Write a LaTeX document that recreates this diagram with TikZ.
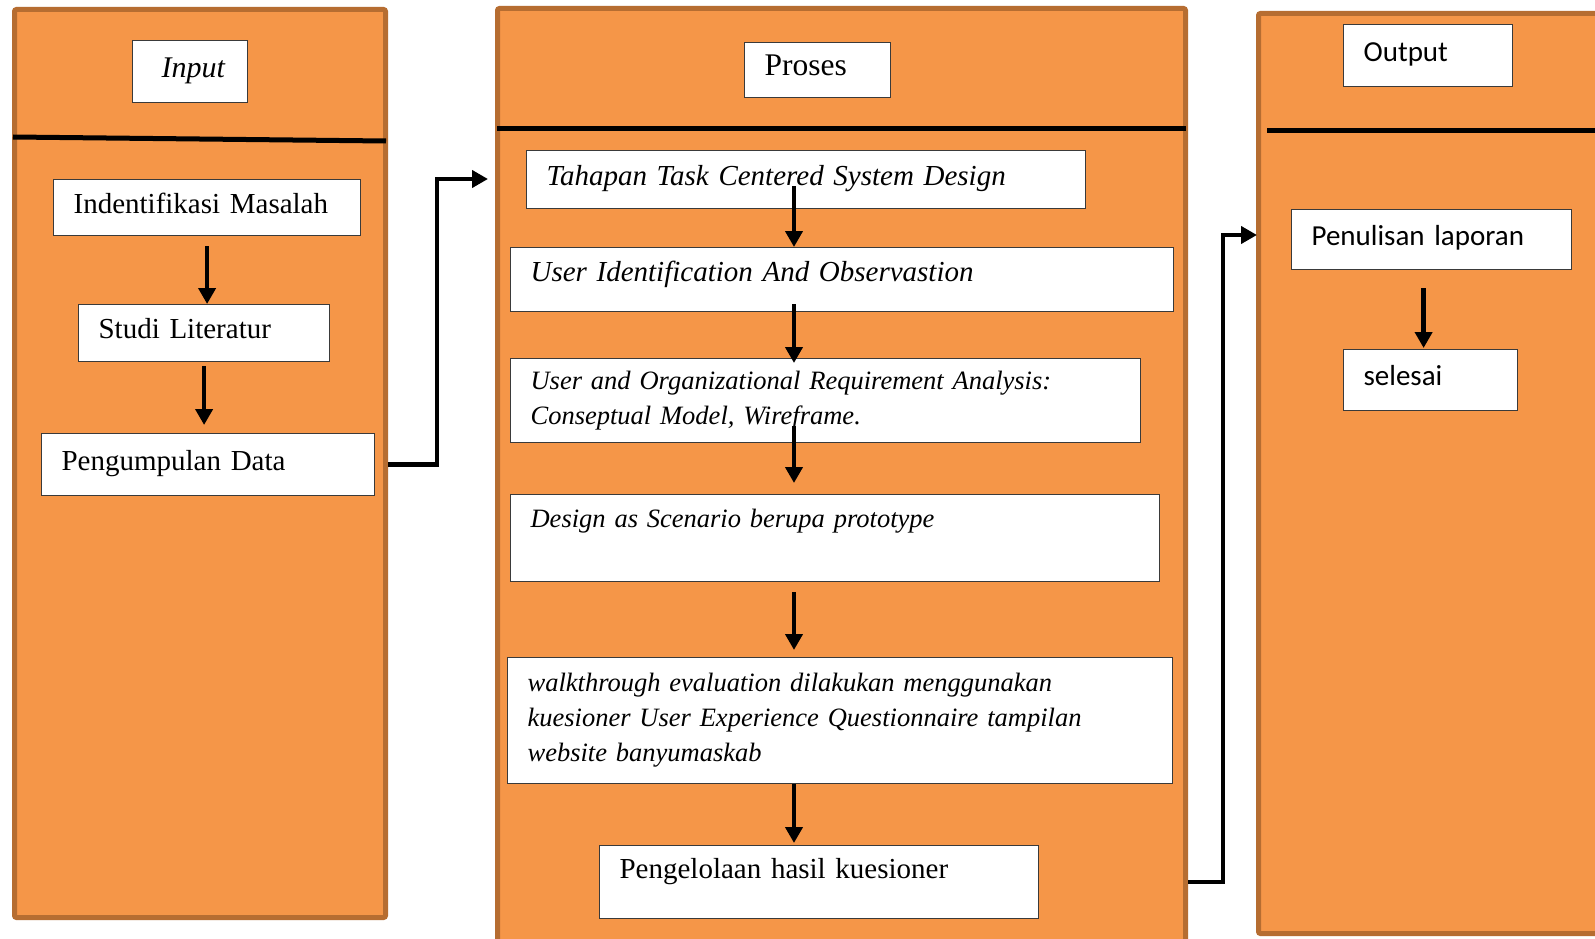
\documentclass[tikz,border=0pt]{standalone}
\usepackage{fontspec}
\setmainfont{Liberation Serif}
\newfontfamily\calibri{Carlito}
\usepackage{xcolor}
\usepackage{tikz}
\usetikzlibrary{calc, arrows.meta}

\definecolor{panelfill}{HTML}{F59648}
\definecolor{panelborder}{HTML}{B66D31}
\definecolor{boxline}{HTML}{3A3A3A}

\tikzset{
	panel/.style={draw=panelborder, fill=panelfill, line width=5pt, rounded corners=2pt, anchor=north west, inner sep=0pt},
	box/.style={draw=boxline, fill=white, line width=1.2pt, anchor=north west, inner xsep=20pt, inner ysep=0pt, align=left, font=\fontsize{29}{35}\selectfont},
	smallit/.style={font=\fontsize{26.5}{35}\selectfont\itshape},
	bigit/.style={font=\fontsize{29}{35}\selectfont\itshape},
	cal/.style={font=\calibri\fontsize{29}{35}\selectfont},
	oneline/.style={text height=20pt, text depth=9pt},
	flow/.style={line width=4.5pt, -{Triangle[length=16pt, width=17pt]}},
	divider/.style={line width=5pt},
}

\begin{document}
\begin{tikzpicture}[x=1pt, y=-1pt]
			\path[use as bounding box, fill=white] (0,0) rectangle (1595,939);
			\node[panel, minimum width=371pt, minimum height=908pt] (inpanel) at (12,7) {};
			\node[panel, minimum width=688pt, minimum height=940pt] (prpanel) at (495,6) {};
			\node[panel, minimum width=359pt, minimum height=920pt] (outpanel) at (1256,11) {};
			\draw[divider] (13,137) -- (386,141);
			\draw[divider] (497,129) -- (1186,129);
			\draw[divider] (1267,131) -- (1595,131);

			\node[box, oneline, text width=75pt, minimum height=62pt, font=\fontsize{30}{36}\selectfont\itshape] (inlabel) at (132,40) {\hspace*{9pt}\mbox{Input}};
			\node[box, oneline, text width=267pt, minimum height=56pt] (idm) at (53,179) {Indentifikasi Masalah};
			\node[box, oneline, text width=211pt, minimum height=57pt] (studi) at (78,304) {Studi Literatur};
			\node[box, oneline, text width=293pt, minimum height=62pt] (pdata) at (41,433) {Pengumpulan Data};

			\node[box, oneline, text width=106pt, minimum height=55pt, font=\fontsize{31.5}{38}\selectfont] (prlabel) at (744,42) {Proses};
			\node[box, oneline, bigit, text width=519pt, minimum height=58pt] (tcsd) at (526,150) {Tahapan Task Centered System Design};
			\node[box, bigit, text width=623pt, minimum height=64pt, text height=20pt, text depth=16pt] (uid) at (510,247) {User Identification And Observastion};
			\node[box, smallit, text width=590pt, minimum height=84pt] (uor) at (510,358) {User and Organizational Requirement Analysis:\\Conseptual Model, Wireframe.};
			\node[box, smallit, text width=609pt, minimum height=87pt, text height=18pt, text depth=39pt] (scen) at (510,494) {Design as Scenario berupa prototype};
			\node[box, smallit, text width=625pt, minimum height=126pt] (walk) at (507,657) {walkthrough evaluation dilakukan menggunakan\\kuesioner User Experience Questionnaire tampilan\\website banyumaskab};
			\node[box, text width=399pt, minimum height=73pt, text height=20pt, text depth=27pt] (kuesioner) at (599,845) {Pengelolaan hasil kuesioner};

			\node[box, oneline, cal, text width=129pt, minimum height=62pt] (outlabel) at (1343,24) {Output};
			\node[box, oneline, cal, text width=240pt, minimum height=60pt] (lap) at (1291,209) {Penulisan laporan};
			\node[box, oneline, cal, text width=134pt, minimum height=61pt] (selesai) at (1343,349) {selesai};

			\coordinate (pcol) at (794,0);
			\coordinate (inarrow) at (488,179);
			\coordinate (outarrow) at (1257,235);

			\draw[flow] ($(idm.south)+(0,10)$) -- (idm.south |- studi.north);
			\draw[flow] ($(studi.south)+(0,4)$) -- ($(studi.south |- pdata.north)+(0,-8)$);
			\draw[flow] (inpanel.east |- pdata.east) -- ++(49,0) |- (inarrow);

			\draw[flow] ($(tcsd.south -| pcol)+(0,-23)$) -- (uid.north -| pcol);
			\draw[flow] ($(uid.south -| pcol)+(0,-8)$) -- ($(uor.north -| pcol)+(0,5)$);
			\draw[flow] ($(uor.south -| pcol)+(0,-17)$) -- ($(scen.north -| pcol)+(0,-11)$);
			\draw[flow] ($(scen.south -| pcol)+(0,10)$) -- ($(walk.north -| pcol)+(0,-7)$);
			\draw[flow] (walk.south -| pcol) -- ($(kuesioner.north -| pcol)+(0,-2)$);
			\draw[flow] (prpanel.east |- kuesioner.east) -- ++(35,0) |- (outarrow);

			\draw[flow] ($(lap.south)+(-8,18)$) -- ($(selesai.north)+(-7,-1)$);
		\end{tikzpicture}
\end{document}
